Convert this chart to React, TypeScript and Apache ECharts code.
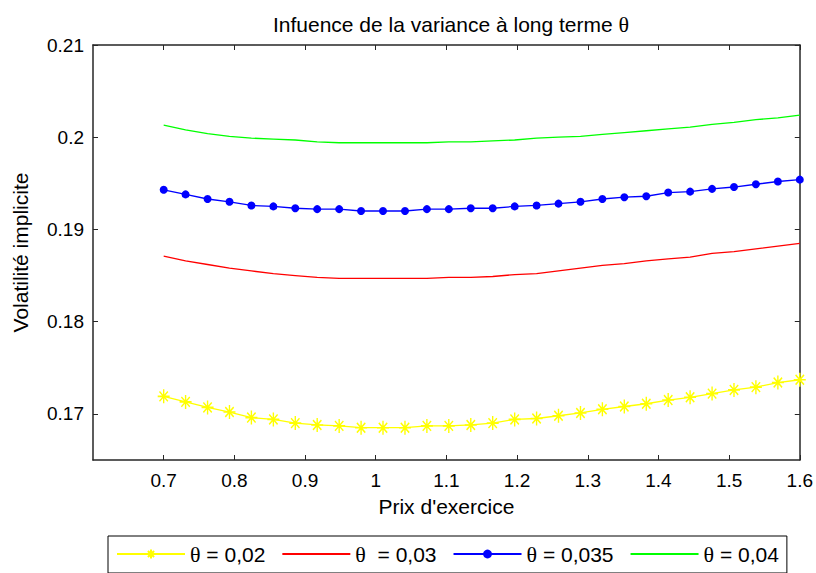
import React, { useEffect, useRef } from "react";
import * as echarts from "echarts";

const strikes: number[] = Array.from({ length: 30 }, (_, i) => +(0.7 + (i * 0.9) / 29).toFixed(4));

const theta002 = [0.1719, 0.1713, 0.1707, 0.1702, 0.1696, 0.1694, 0.169, 0.1688, 0.1687, 0.1685, 0.1685, 0.1685, 0.1687, 0.1687, 0.1688, 0.169, 0.1694, 0.1695, 0.1698, 0.1701, 0.1705, 0.1708, 0.1711, 0.1715, 0.1718, 0.1722, 0.1726, 0.1729, 0.1734, 0.1737];
const theta003 = [0.1871, 0.1866, 0.1862, 0.1858, 0.1855, 0.1852, 0.185, 0.1848, 0.1847, 0.1847, 0.1847, 0.1847, 0.1847, 0.1848, 0.1848, 0.1849, 0.1851, 0.1852, 0.1855, 0.1858, 0.1861, 0.1863, 0.1866, 0.1868, 0.187, 0.1874, 0.1876, 0.1879, 0.1882, 0.1885];
const theta0035 = [0.1943, 0.1938, 0.1933, 0.193, 0.1926, 0.1925, 0.1923, 0.1922, 0.1922, 0.192, 0.192, 0.192, 0.1922, 0.1922, 0.1923, 0.1923, 0.1925, 0.1926, 0.1928, 0.193, 0.1933, 0.1935, 0.1936, 0.194, 0.1941, 0.1944, 0.1946, 0.1949, 0.1952, 0.1954];
const theta004 = [0.2013, 0.2008, 0.2004, 0.2001, 0.1999, 0.1998, 0.1997, 0.1995, 0.1994, 0.1994, 0.1994, 0.1994, 0.1994, 0.1995, 0.1995, 0.1996, 0.1997, 0.1999, 0.2, 0.2001, 0.2003, 0.2005, 0.2007, 0.2009, 0.2011, 0.2014, 0.2016, 0.2019, 0.2021, 0.2024];

const xTicks = [0.7, 0.8, 0.9, 1, 1.1, 1.2, 1.3, 1.4, 1.5, 1.6];
const yTicks = [0.17, 0.18, 0.19, 0.2, 0.21];
const seriesNames = ["θ = 0,02", "θ  = 0,03", "θ = 0,035", "θ = 0,04"];

const FONT = "'Liberation Sans', Arial, sans-serif";
const AXIS_COLOR = "#262626";

const pair = (ys: number[]) => strikes.map((x, i) => [x, ys[i]]);

export default function App() {
  const ref = useRef<HTMLDivElement>(null);
  useEffect(() => {
    if (!ref.current) return;
    const chart = echarts.init(ref.current, null, { renderer: "svg" });
    const xBase = {
      type: "value" as const,
      min: 0.6,
      max: 1.6,
      splitLine: { show: false },
      axisLine: { show: true, lineStyle: { color: AXIS_COLOR, width: 1.5 } },
      axisTick: { show: true, inside: true, length: 5, customValues: xTicks, lineStyle: { color: AXIS_COLOR } },
    };
    const yBase = {
      type: "value" as const,
      min: 0.165,
      max: 0.21,
      splitLine: { show: false },
      axisLine: { show: true, lineStyle: { color: AXIS_COLOR, width: 1.5 } },
      axisTick: { show: true, inside: true, length: 5, customValues: yTicks, lineStyle: { color: AXIS_COLOR } },
    };
    const asterisk = "path://M0,-10L0,10M-10,0L10,0M-7,-7L7,7M-7,7L7,-7";
    const thetaRich = { t: { fontFamily: "'Liberation Serif', serif", fontSize: 22, color: "#000" } };
    chart.setOption({
      animation: false,
      backgroundColor: "#ffffff",
      textStyle: { fontFamily: FONT },
      title: {
        text: "Infuence de la variance à long terme {t|θ}",
        left: 446,
        textAlign: "center",
        top: 8,
        textStyle: {
          fontFamily: FONT,
          fontSize: 21,
          fontWeight: "normal",
          color: "#000",
          rich: thetaRich,
        },
      },
      grid: { left: 93, top: 45, right: 15, bottom: 113, show: false },
      xAxis: [
        {
          ...xBase,
          position: "bottom",
          name: "Prix d'exercice",
          nameLocation: "middle",
          nameGap: 36,
          nameTextStyle: { fontFamily: FONT, fontSize: 21, color: "#000" },
          axisLabel: { customValues: xTicks, fontFamily: FONT, fontSize: 19, color: "#000", margin: 11 },
        },
        { ...xBase, position: "top", axisLabel: { show: false } },
      ],
      yAxis: [
        {
          ...yBase,
          position: "left",
          name: "Volatilité implicite",
          nameLocation: "middle",
          nameGap: 62,
          nameTextStyle: { fontFamily: FONT, fontSize: 21, color: "#000" },
          axisLabel: { customValues: yTicks, fontFamily: FONT, fontSize: 19, color: "#000", margin: 9 },
        },
        { ...yBase, position: "right", axisLabel: { show: false } },
      ],
      legend: {
        left: 108,
        top: 536,
        orient: "horizontal",
        itemWidth: 68,
        itemHeight: 11,
        itemGap: 16,
        padding: [7, 8, 8, 8],
        borderColor: "#000",
        borderWidth: 1,
        backgroundColor: "#fff",
        formatter: (name: string) => name.replace("θ", "{t|θ}"),
        textStyle: {
          fontFamily: FONT,
          fontSize: 21,
          color: "#000",
          rich: thetaRich,
        },
        data: [
          { name: seriesNames[0] },
          { name: seriesNames[1], itemStyle: { opacity: 0 } },
          { name: seriesNames[2] },
          { name: seriesNames[3], itemStyle: { opacity: 0 } },
        ],
      },
      series: [
        {
          name: seriesNames[0],
          type: "line",
          data: pair(theta002),
          symbol: asterisk,
          symbolSize: [12, 14],
          showSymbol: true,
          lineStyle: { color: "#ffff00", width: 1.3 },
          itemStyle: { color: "#ffff00", borderColor: "#ffff00", borderWidth: 1.5 },
        },
        {
          name: seriesNames[1],
          type: "line",
          data: pair(theta003),
          symbol: "none",
          lineStyle: { color: "#ff0000", width: 1.3 },
          itemStyle: { color: "#ff0000" },
        },
        {
          name: seriesNames[2],
          type: "line",
          data: pair(theta0035),
          symbol: "circle",
          symbolSize: 8,
          showSymbol: true,
          lineStyle: { color: "#0000ff", width: 1.3 },
          itemStyle: { color: "#0000ff", borderWidth: 0 },
        },
        {
          name: seriesNames[3],
          type: "line",
          data: pair(theta004),
          symbol: "none",
          lineStyle: { color: "#00ff00", width: 1.3 },
          itemStyle: { color: "#00ff00" },
        },
      ],
    });
    return () => chart.dispose();
  }, []);
  return <div ref={ref} style={{ position: "fixed", left: 0, top: 0, width: 816, height: 573 }} />;
}
